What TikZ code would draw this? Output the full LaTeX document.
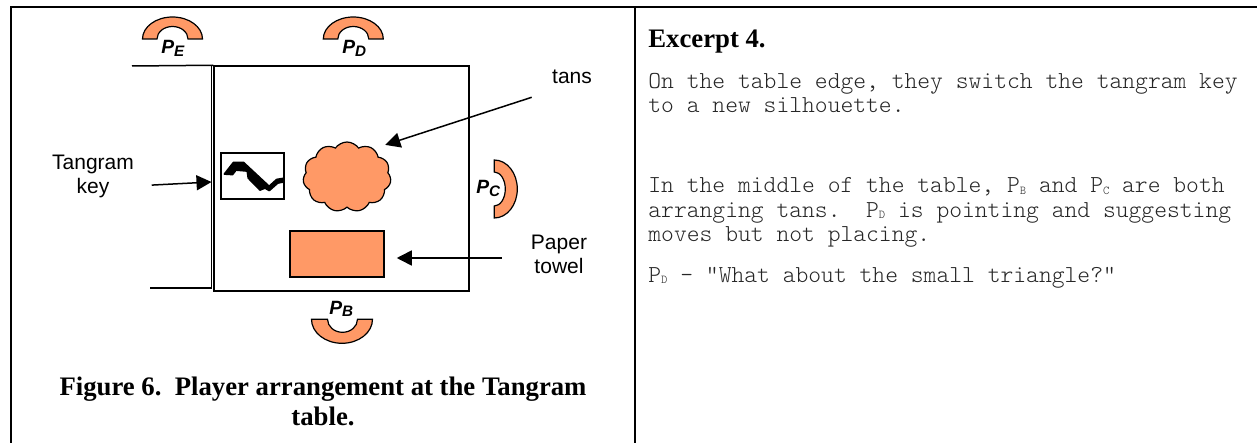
\documentclass[tikz,border=0pt]{standalone}
\usepackage{fontspec}
\setmainfont{Liberation Serif}
\setsansfont{Liberation Sans}
\setmonofont{Latin Modern Mono Light}
\usetikzlibrary{arrows.meta,calc,shapes.symbols}

\definecolor{seatorange}{RGB}{255,153,102}
\newcommand{\seatname}[1]{{\sffamily\bfseries\itshape\fontsize{9.6}{9.6}\selectfont P\raisebox{-1.2pt}{\fontsize{7.6}{7.6}\selectfont #1}}}
\newcommand{\psub}[1]{\raisebox{-0.6pt}{\fontsize{6}{6}\selectfont #1}}

\begin{document}
\begin{tikzpicture}[
  x=0.5pt, y=-0.5pt,
  frame/.style={line width=1pt},
  tableedge/.style={line width=0.75pt},
  seat/.style={draw=black, fill=seatorange, line width=0.6pt},
  seatlbl/.style={anchor=base west, inner sep=0},
  lbl/.style={font=\sffamily\fontsize{10.5}{12}\selectfont, align=center, inner sep=0},
  note/.style={font=\ttfamily\fontsize{12.2}{12.25}\selectfont, text=black!85, align=left, inner sep=0, anchor=base west},
  heading/.style={font=\bfseries\fontsize{13.36}{15}\selectfont, align=center, inner sep=0},
  arr/.style={-{Triangle[length=7.5pt,width=7.5pt]}, line width=0.75pt}
]
\useasboundingbox (0,0) rectangle (1257,443);

% outer frame and column rule
\draw[frame] (10.5,443) -- (10.5,7) -- (1257,7);
\draw[frame] (635,7) -- (635,443);

% the table and the edge where the key sits
\node[draw, tableedge, minimum width=127.5pt, minimum height=112.5pt, inner sep=0] (table) at (341.5,178.5) {};
\coordinate (edgetop) at (211.5,66);
\coordinate (edgebot) at (211.5,288);
\draw[tableedge] (132,66) -- (table.north west);
\draw[tableedge] (edgetop) -- (edgebot) -- (150,288);

\node[draw, line width=0.75pt, minimum width=31.5pt, minimum height=23pt, inner sep=0] (keybox) at (252.5,176) {};
\filldraw[line width=0.9pt, line join=round] (224.5,174) -- (233.5,162.5) -- (243.5,162.5) -- (265.5,183) -- (269,186.5) -- (276.7,179.5)
  -- (283,178.5) -- (283,182) -- (277.7,183) -- (269.3,190.5) -- (265,188) -- (260,190)
  -- (248.3,178) -- (247.3,171) -- (236,170) -- (232.5,174.5) -- cycle;

\node[cloud, cloud puffs=11, cloud puff arc=110, aspect=1.25, draw, line width=0.6pt,
      fill=seatorange, minimum width=44pt, minimum height=35pt, inner sep=0] (tans) at (347,177) {};
\node[draw, line width=0.75pt, fill=seatorange, minimum width=47pt, minimum height=23pt, inner sep=0] (towel) at (337,254) {};

% players round the table
\draw[seat] (142.5,39) arc[start angle=180, end angle=360, x radius=30, y radius=22]
  -- (188,39) arc[start angle=360, end angle=180, x radius=15.5, y radius=12.5] -- cycle;
\draw[seat] (323.3,39) arc[start angle=180, end angle=360, x radius=30, y radius=22]
  -- (368.8,39) arc[start angle=360, end angle=180, x radius=15.5, y radius=12.5] -- cycle;
\draw[seat] (494.3,160) arc[start angle=270, end angle=450, x radius=23, y radius=29]
  -- (494.3,206) arc[start angle=90, end angle=-90, x radius=11, y radius=17] -- cycle;
\draw[seat] (372.5,319.3) arc[start angle=0, end angle=180, x radius=30.5, y radius=24]
  -- (327.5,319.3) arc[start angle=180, end angle=0, x radius=15, y radius=13] -- cycle;

\node[seatlbl] (pe) at (161,54) {\seatname{E}};
\node[seatlbl] (pd) at (342,54) {\seatname{D}};
\node[seatlbl] (pc) at (476,194) {\seatname{C}};
\node[seatlbl] (pb) at (329,314) {\seatname{B}};

% labels and pointers
\node[lbl] (keylbl) at (93,176) {Tangram\\key};
\node[lbl] (tanslbl) at (572,77) {tans};
\node[lbl] (towellbl) at (559,254) {Paper\\towel};

\draw[arr, shorten <=8.75pt] ($(keylbl.east)+(0,10)$) -- ($(edgetop |- keylbl.east)+(0,6)$);
\draw[arr] ($(tanslbl.south west)+(-20,13)$) -- ($(tans.north east)+(8,-8)$);
\draw[arr, shorten >=6pt] ($(towellbl.west)+(-29,4)$) -- ($(towel.east)+(0,4)$);

\node[heading, anchor=base] (caption) at (323,425) {Figure 6.\ \ Player arrangement at the Tangram\\table.};

% excerpt column
\node[heading, anchor=base west] (excerpt) at (648,48) {Excerpt 4.};
\node[note] (note1) at (648,113) {On the table edge, they switch the tangram key\\to a new silhouette.};
\node[note] (note2) at (648,242) {In the middle of the table, P\psub{B} and P\psub{C} are both\\arranging tans.\ \ P\psub{D} is pointing and suggesting\\moves but not placing.};
\node[note] (quote) at (648,282) {P\psub{D} – “What about the small triangle?”};
\end{tikzpicture}
\end{document}
